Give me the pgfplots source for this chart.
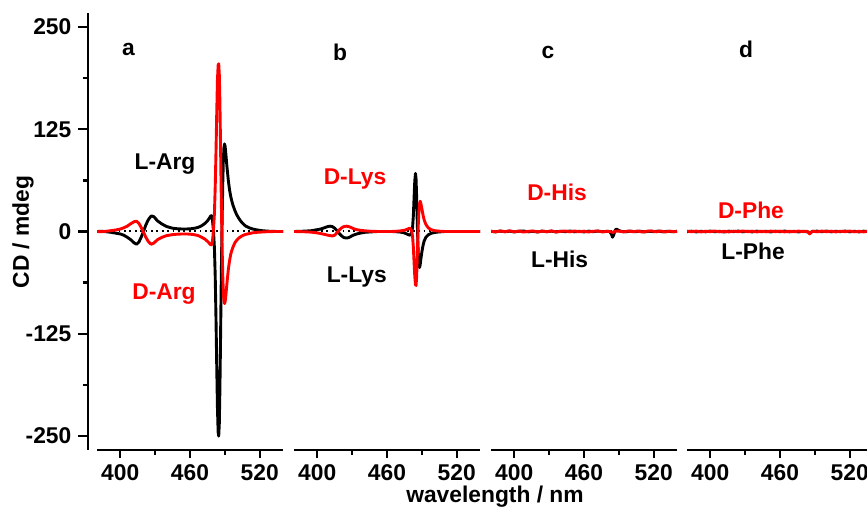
\documentclass[border=0pt]{standalone}
\usepackage{fontspec}
\setmainfont{Liberation Sans}
\usepackage{pgfplots}
\pgfplotsset{compat=1.18}

\newcommand\lab{\fontsize{11.4}{13}\selectfont\bfseries}

\pgfplotsset{
  panel/.style={
    scale only axis, width=93pt, height=218.5pt, anchor=south west,
    xmin=380, xmax=540, ymin=-267, ymax=267,
    axis x line=bottom, axis y line=none,
    axis line style={-, line width=1.4pt},
    xtick={400,460,520}, xticklabels={400,460,520},
    minor xtick={430,490},
    tick align=outside,
    major tick length=4pt, minor tick length=2.3pt,
    every tick/.style={black, line width=1.2pt},
    xticklabel style={font=\lab},
  },
  cdL/.style={black, line width=1.45pt, line join=round, mark=none},
  cdD/.style={red, line width=1.45pt, line join=round, mark=none},
  zero/.style={black, line width=1pt, dash pattern=on 0.9pt off 1.8pt},
}

\begin{document}
\begin{tikzpicture}
\useasboundingbox (0,0) rectangle (433.5pt,254pt);
\clip (0,0) rectangle (433.5pt,254pt);

% shared CD axis
\begin{axis}[
  at={(44pt,29pt)}, anchor=south west,
  scale only axis, width=1pt, height=218.5pt,
  xmin=0, xmax=1, ymin=-267, ymax=267,
  axis y line=left, axis x line=none,
  axis line style={-, line width=1.4pt},
  ytick={-250,-125,0,125,250},
  yticklabels={-250,-125,0,125,250},
  minor ytick={-187.5,-62.5,62.5,187.5},
  tick align=outside,
  major tick length=4.8pt, minor tick length=2.6pt,
  every tick/.style={black, line width=1.2pt},
  yticklabel style={font=\lab},
]
\addplot[draw=none] coordinates {(0,0)};
\end{axis}

% (a) arginine
\begin{axis}[panel, at={(48.5pt,29pt)}]
\addplot[zero] coordinates {(380,0) (540,0)};
\addplot[cdL] coordinates {(380,0)(384,0.3)(388,-0.3)(392,-1)(396,-2)(400,-3)(403,-4.5)(406,-7)(409,-10)(412,-14)(414,-15.5)(416,-13)(418,-7)(420,0)(422,8)(424,14)(426,18)(427,19)(429,18)(432,13)(436,9)(440,6)(445,4)(450,3.2)(455,3)(460,3.2)(464,4)(467,5)(470,7)(473,10)(475,13)(477,17)(478,19.5)(478.7,19)(479.3,14)(479.8,7)(480.3,-2)(481,-20)(481.7,-55)(482.4,-110)(483,-165)(483.6,-215)(484.2,-245)(484.7,-250)(485.2,-235)(485.7,-195)(486.2,-140)(486.7,-80)(487.2,-25)(487.7,20)(488.2,60)(488.7,88)(489.2,102)(489.7,107)(490.2,104)(490.7,97)(491.3,87)(492,76)(493,62)(494,51)(495,43)(496,37)(497,32)(498.5,26)(500,21)(502,16)(504,12)(506,9)(508,6.5)(511,4.5)(514,3)(518,1.8)(522,1)(526,0.5)(530,0.2)(535,0)(540,0)};
\addplot[cdD] coordinates {(380,0)(384,-0.3)(388,0.3)(392,1)(396,1.8)(400,3)(403,4.5)(406,6.5)(409,9.5)(412,12)(414,12.5)(416,10)(418,5)(420,-1)(422,-7)(424,-12)(426,-15)(427,-15.5)(429,-14)(432,-10)(436,-7)(440,-5)(445,-3.8)(450,-3.2)(455,-3)(460,-3.2)(464,-4)(467,-5)(470,-7)(473,-9.5)(475,-12)(477,-15)(478,-16.5)(478.7,-16)(479.3,-12)(479.8,-5)(480.3,5)(481,22)(481.7,55)(482.4,100)(483,145)(483.6,185)(484.2,203)(484.7,205)(485.2,192)(485.7,160)(486.2,112)(486.7,60)(487.2,15)(487.7,-25)(488.2,-55)(488.7,-75)(489.2,-85)(489.7,-88)(490.2,-86)(490.7,-80)(491.3,-71)(492,-60)(493,-46)(494,-36)(495,-28)(496,-23)(497,-19)(498.5,-14)(500,-11)(502,-8)(504,-6)(506,-4.5)(508,-3.5)(511,-2.5)(514,-1.6)(518,-1)(522,-0.6)(526,-0.3)(530,-0.1)(535,0)(540,0)};
\node[font=\lab] at (axis cs:407,223) {a};
\node[font=\lab] at (axis cs:438.5,82.5) {L-Arg};
\node[font=\lab, red] at (axis cs:437.6,-76.4) {D-Arg};
\end{axis}

% (b) lysine
\begin{axis}[panel, at={(147pt,29pt)}]
\addplot[zero] coordinates {(380,0) (540,0)};
\addplot[cdL] coordinates {(380,0)(385,0.2)(390,0.5)(395,1)(399,2)(403,3)(406,4.5)(409,6)(411,6.5)(413,6)(415,4)(417,1)(419,-2.5)(421,-5.5)(423,-7.5)(425,-8)(427,-7.5)(429,-6)(431,-4.5)(434,-3)(437,-2)(441,-1)(446,-0.5)(452,0)(458,0)(464,0)(468,-0.3)(472,-0.8)(475,-1.8)(477,-3)(478.5,-4)(479.5,-4.5)(480.5,-3.5)(481.3,-0.5)(482,5)(482.7,20)(483.3,42)(483.9,62)(484.5,71)(485,64)(485.5,42)(486,14)(486.5,-12)(487,-30)(487.5,-41)(488,-44)(488.5,-41)(489,-35)(490,-25)(491,-17)(492,-11.5)(493.5,-7)(495.5,-4)(498,-2.2)(501,-1.2)(505,-0.5)(510,0)(520,0)(530,0)(540,0)};
\addplot[cdD] coordinates {(380,0)(385,-0.2)(390,-0.4)(395,-0.8)(399,-1.5)(403,-2.5)(406,-3.5)(409,-4.5)(411,-5)(413,-5.5)(415,-4.5)(417,-1.5)(419,2)(421,4.5)(423,6)(425,6.5)(427,6)(429,5)(431,3.5)(434,2.2)(437,1.5)(441,0.8)(446,0.3)(452,0)(458,0)(464,0)(468,0.3)(472,0.8)(475,1.5)(477,2.5)(478.5,3.5)(479.5,4)(480.5,3)(481.3,0)(482,-6)(482.7,-20)(483.3,-38)(483.9,-55)(484.5,-65)(485,-66)(485.5,-55)(486,-32)(486.5,-8)(487,12)(487.5,26)(488,34)(488.5,37)(489,35)(490,28)(491,20)(492,14)(493.5,8.5)(495.5,4.5)(498,2.2)(501,1)(505,0.4)(510,0)(520,0)(530,0)(540,0)};
\node[font=\lab] at (axis cs:419.6,219) {b};
\node[font=\lab, red] at (axis cs:432.5,64) {D-Lys};
\node[font=\lab] at (axis cs:434,-56) {L-Lys};
\end{axis}

% (c) histidine
\begin{axis}[panel, at={(245.5pt,29pt)}]
\addplot[zero] coordinates {(380,0) (540,0)};
\addplot[cdL] coordinates {(380,0.2)(384,-0.4)(388,0.5)(392,-0.3)(396,0.4)(400,-0.5)(404,0.3)(408,0.6)(412,-0.4)(416,0.2)(420,-0.6)(424,0.5)(428,-0.2)(432,0.4)(436,-0.5)(440,0.3)(444,-0.3)(448,0.6)(452,-0.4)(456,0.2)(460,-0.5)(464,0.4)(468,-0.2)(472,0.5)(476,-0.3)(480,0.2)(482,0)(483.5,-3)(484.5,-7)(485.5,-4.5)(486.5,0.5)(487.5,2.8)(488.5,2.5)(490,1.2)(492,0.2)(496,-0.4)(500,0.5)(504,-0.3)(508,0.4)(512,-0.5)(516,0.3)(520,-0.2)(524,0.5)(528,-0.4)(532,0.3)(536,-0.3)(540,0.2)};
\addplot[cdD] coordinates {(380,0.3)(384,-0.5)(388,0.6)(392,-0.2)(396,0.8)(400,-0.4)(404,0.5)(408,-0.7)(412,0.2)(416,0.6)(420,-0.5)(424,0.4)(428,-0.3)(432,0.7)(436,-0.6)(440,0.2)(444,0.5)(448,-0.4)(452,0.6)(456,-0.3)(460,0.4)(464,-0.6)(468,0.3)(472,0.5)(476,-0.4)(480,0.2)(483,-0.3)(485,-1.2)(487,0.5)(490,0.4)(494,-0.5)(498,0.6)(502,-0.3)(506,0.5)(510,-0.6)(514,0.3)(518,0.7)(522,-0.4)(526,0.5)(530,-0.5)(534,0.4)(538,-0.3)(540,0.2)};
\node[font=\lab] at (axis cs:429,219) {c};
\node[font=\lab, red] at (axis cs:436.8,47.7) {D-His};
\node[font=\lab] at (axis cs:439,-33.6) {L-His};
\end{axis}

% (d) phenylalanine
\begin{axis}[panel, at={(343.5pt,29pt)}]
\addplot[zero] coordinates {(380,0) (540,0)};
\addplot[cdL] coordinates {(380,-0.2)(384,0.4)(388,-0.5)(392,0.3)(396,-0.4)(400,0.5)(404,-0.3)(408,0.2)(412,-0.6)(416,0.4)(420,-0.2)(424,0.5)(428,-0.4)(432,0.3)(436,-0.5)(440,0.4)(444,-0.2)(448,0.3)(452,-0.5)(456,0.4)(460,-0.3)(464,0.5)(468,-0.4)(472,0.2)(476,-0.5)(480,0.3)(484,-0.6)(486,-1.5)(488,0.2)(492,0.4)(496,-0.3)(500,0.5)(504,-0.4)(508,0.3)(512,-0.2)(516,0.5)(520,-0.4)(524,0.3)(528,-0.5)(532,0.4)(536,-0.2)(540,0.3)};
\addplot[cdD] coordinates {(380,0.4)(384,-0.3)(388,0.5)(392,-0.5)(396,0.3)(400,-0.2)(404,0.6)(408,-0.4)(412,0.3)(416,-0.5)(420,0.4)(424,-0.3)(428,0.6)(432,-0.2)(436,0.4)(440,-0.5)(444,0.3)(448,-0.4)(452,0.5)(456,-0.2)(460,0.4)(464,-0.5)(468,0.3)(472,-0.3)(476,0.5)(480,-0.2)(483,0.3)(484.5,-0.8)(485.5,-3)(486.5,-1.5)(488,0.3)(492,-0.4)(496,0.5)(500,-0.3)(504,0.4)(508,-0.5)(512,0.3)(516,-0.2)(520,0.5)(524,-0.4)(528,0.3)(532,-0.5)(536,0.4)(540,-0.2)};
\node[font=\lab] at (axis cs:430.8,222) {d};
\node[font=\lab, red] at (axis cs:435,25.7) {D-Phe};
\node[font=\lab] at (axis cs:436.8,-24.4) {L-Phe};
\end{axis}

% axis titles
\node[font=\lab, rotate=90] at (11.5pt,138pt) {CD / mdeg};
\node[font=\lab, anchor=base] at (247.5pt,2.8pt) {wavelength / nm};
\end{tikzpicture}
\end{document}
